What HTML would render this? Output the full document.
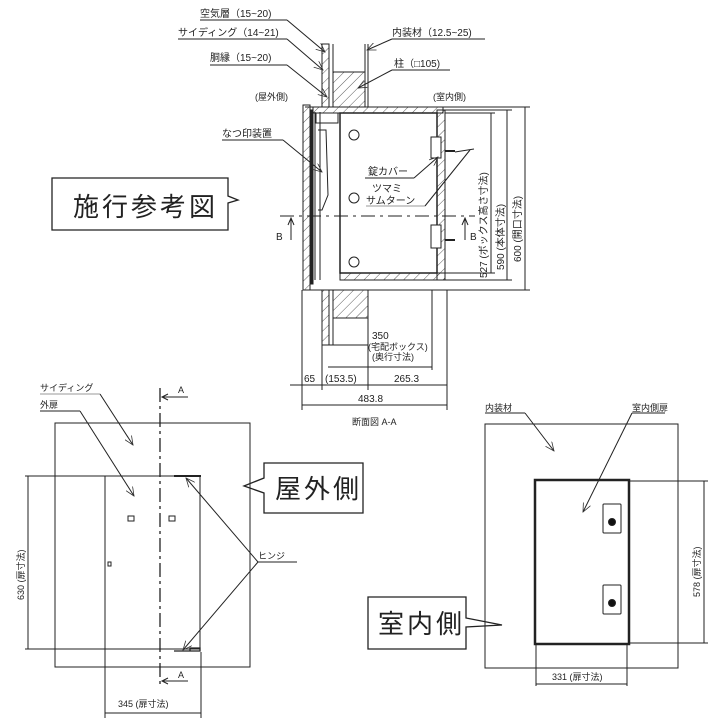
<!DOCTYPE html>
<html><head><meta charset="utf-8"><style>
html,body{margin:0;padding:0;background:#fff}
svg{display:block}
text{font-family:"Liberation Sans","Noto Sans CJK JP",sans-serif;fill:#222}
</style></head><body>
<svg width="720" height="720" viewBox="0 0 720 720" xmlns="http://www.w3.org/2000/svg">
<defs>
<pattern id="h" width="7" height="7" patternUnits="userSpaceOnUse" patternTransform="rotate(45)">
<line x1="0" y1="0" x2="0" y2="7" stroke="#333" stroke-width="0.8"/></pattern>
<marker id="ar" markerWidth="10" markerHeight="8" refX="9" refY="4" orient="auto" markerUnits="userSpaceOnUse"><path d="M0,0 L9,4 L0,8" fill="none" stroke="#333" stroke-width="0.8"/></marker>
</defs>
<g stroke="#222" fill="none" stroke-width="1">
<rect x="333" y="72" width="32" height="35" fill="url(#h)" stroke="none"/>
<rect x="322" y="44" width="7" height="63" fill="url(#h)"/>
<line x1="333" y1="44" x2="333" y2="107"/><line x1="365" y1="44" x2="365" y2="107"/><line x1="368" y1="44" x2="368" y2="107"/>
<line x1="333" y1="72" x2="365" y2="72"/>
<line x1="305" y1="107" x2="530" y2="107"/>
<rect x="313" y="107" width="130" height="6" fill="url(#h)"/>
<rect x="303" y="105" width="7" height="185" fill="url(#h)"/>
<rect x="310" y="110" width="3" height="174" fill="#222"/>
<line x1="315" y1="112" x2="315" y2="280"/><line x1="320" y1="112" x2="320" y2="280"/>
<rect x="316" y="113" width="22" height="10"/>
<path d="M318,130 L326,130 L328,195 L322,210 L318,210"/>
<rect x="340" y="113" width="97" height="160" stroke-width="1.5"/>
<rect x="437" y="110" width="8" height="170" fill="url(#h)"/>
<rect x="340" y="273" width="105" height="7" fill="url(#h)"/>
<circle cx="354" cy="135" r="5"/><circle cx="354" cy="198" r="5"/><circle cx="354" cy="262" r="5"/>
<rect x="431" y="137" width="10" height="21" fill="#fff"/><rect x="431" y="225" width="10" height="23" fill="#fff"/>
<line x1="445" y1="151" x2="455" y2="151" stroke-width="2"/><line x1="445" y1="240" x2="455" y2="240" stroke-width="2"/>
<line x1="305" y1="290" x2="530" y2="290"/>
<line x1="445" y1="113" x2="495" y2="113"/><line x1="445" y1="273" x2="495" y2="273"/>
<line x1="445" y1="110" x2="512" y2="110"/><line x1="445" y1="280" x2="512" y2="280"/>
<line x1="491" y1="113" x2="491" y2="273"/>
<line x1="507" y1="110" x2="507" y2="280"/>
<line x1="525" y1="107" x2="525" y2="290"/>
<line x1="280" y1="216" x2="475" y2="216" stroke-dasharray="14,5,3,5"/>
<path d="M291,240 V218 M288,225 L291,218 L294,225"/>
<path d="M465,240 V218 M462,225 L465,218 L468,225"/>
<rect x="333" y="290" width="35" height="28" fill="url(#h)"/>
<rect x="322" y="290" width="7" height="55" fill="url(#h)"/>
<line x1="333" y1="318" x2="333" y2="345"/><line x1="368" y1="290" x2="368" y2="345"/><line x1="322" y1="345" x2="368" y2="345"/>
<line x1="328" y1="367" x2="432" y2="367"/>
<line x1="432" y1="290" x2="432" y2="370"/>
<line x1="290" y1="385" x2="447" y2="385"/>
<line x1="302" y1="290" x2="302" y2="410"/><line x1="322" y1="345" x2="322" y2="390"/><line x1="368" y1="345" x2="368" y2="390"/><line x1="447" y1="290" x2="447" y2="410"/>
<line x1="302" y1="405" x2="447" y2="405"/>
<line x1="200" y1="20" x2="287" y2="20"/><line x1="287" y1="20" x2="325" y2="52" marker-end="url(#ar)"/>
<line x1="178" y1="39" x2="287" y2="39"/><line x1="287" y1="39" x2="323" y2="70" marker-end="url(#ar)"/>
<line x1="210" y1="65" x2="287" y2="65"/><line x1="287" y1="65" x2="327" y2="97" marker-end="url(#ar)"/>
<line x1="392" y1="39" x2="485" y2="39"/><line x1="392" y1="39" x2="367" y2="50" marker-end="url(#ar)"/>
<line x1="392" y1="70" x2="450" y2="70"/><line x1="392" y1="70" x2="358" y2="88" marker-end="url(#ar)"/>
<line x1="222" y1="140" x2="283" y2="140"/><line x1="283" y1="140" x2="322" y2="172" marker-end="url(#ar)"/>
<line x1="365" y1="178" x2="414" y2="178"/><line x1="414" y1="178" x2="438" y2="157" marker-end="url(#ar)"/>
<line x1="366" y1="206" x2="425" y2="206" stroke="#999"/><line x1="425" y1="206" x2="470" y2="150"/><line x1="455" y1="152" x2="474" y2="149"/>
<path d="M52,178 H228 V196 L238,200 L228,203 V230 H52 Z" stroke-width="1.3"/>
<rect x="55" y="423" width="195" height="244"/>
<rect x="105" y="476" width="95" height="173"/>
<line x1="174" y1="476" x2="201" y2="476" stroke-width="2"/>
<path d="M174,651 H192 M190,651 h10 v-3 h-10 z" stroke-width="1.3"/>
<line x1="160" y1="388" x2="160" y2="686" stroke-dasharray="14,4,3,4" stroke-width="1.3"/>
<line x1="162" y1="397" x2="188" y2="397"/>
<line x1="162" y1="681" x2="188" y2="681"/>
<path d="M168,394 L162,397 L168,400 M168,678 L162,681 L168,684"/>
<rect x="128" y="516" width="6" height="5"/><rect x="169" y="516" width="6" height="5"/><rect x="108" y="562" width="3" height="4"/>
<line x1="25" y1="476" x2="105" y2="476"/><line x1="25" y1="649" x2="105" y2="649"/><line x1="28" y1="476" x2="28" y2="649"/>
<line x1="105" y1="649" x2="105" y2="718"/><line x1="201" y1="652" x2="201" y2="718"/><line x1="105" y1="713" x2="201" y2="713"/>
<line x1="40" y1="394" x2="100" y2="394" stroke="#999"/><line x1="100" y1="394" x2="133" y2="445" marker-end="url(#ar)"/>
<line x1="40" y1="411" x2="80" y2="411"/><line x1="80" y1="411" x2="134" y2="496" marker-end="url(#ar)"/>
<line x1="258" y1="562" x2="297" y2="562"/><line x1="258" y1="562" x2="186" y2="478" marker-end="url(#ar)"/><line x1="258" y1="562" x2="183" y2="650" marker-end="url(#ar)"/>
<path d="M264,463 H363 V513 H264 V493 L244,486 L264,478 Z" stroke-width="1.3"/>
<rect x="485" y="424" width="193" height="244"/>
<rect x="535" y="480" width="94" height="164" stroke-width="2.5"/>
<rect x="603" y="504" width="18" height="29" rx="1"/><rect x="603" y="585" width="18" height="29" rx="1"/>
<circle cx="612" cy="522" r="3.5" fill="#111"/><circle cx="612" cy="603" r="3.5" fill="#111"/>
<line x1="629" y1="481" x2="708" y2="481"/><line x1="629" y1="643" x2="708" y2="643"/><line x1="704" y1="481" x2="704" y2="643"/>
<line x1="536" y1="644" x2="536" y2="686"/><line x1="627" y1="644" x2="627" y2="686"/><line x1="536" y1="684" x2="627" y2="684"/>
<line x1="485" y1="413" x2="525" y2="413"/><line x1="525" y1="413" x2="554" y2="451" marker-end="url(#ar)"/>
<line x1="632" y1="413" x2="665" y2="413"/><line x1="632" y1="413" x2="583" y2="512" marker-end="url(#ar)"/>
<path d="M368,597 H466 V618 L502,625 L466,627 V649 H368 Z" stroke-width="1.3"/>
</g>
<g font-size="10">
<text x="200" y="17">空気層（15~20)</text>
<text x="178" y="36">サイディング（14~21)</text>
<text x="210" y="61">胴縁（15~20)</text>
<text x="392" y="36">内装材（12.5~25)</text>
<text x="394" y="67">柱（□105)</text>
<text x="255" y="100" font-size="9">(屋外側)</text>
<text x="433" y="100" font-size="9">(室内側)</text>
<text x="222" y="137">なつ印装置</text>
<text x="368" y="175">錠カバー</text>
<text x="372" y="192">ツマミ</text>
<text x="366" y="204">サムターン</text>
<text x="276" y="240">B</text><text x="470" y="240">B</text>
<text x="372" y="339">350</text>
<text x="368" y="350" font-size="9">(宅配ボックス)</text>
<text x="372" y="360" font-size="9">(奥行寸法)</text>
<text x="304" y="382">65</text><text x="325" y="382">(153.5)</text><text x="394" y="382">265.3</text>
<text x="358" y="402">483.8</text>
<text x="352" y="425" font-size="9">断面図 A-A</text>
<text transform="translate(487,278) rotate(-90)">527 (ボックス高さ寸法)</text>
<text transform="translate(504,270) rotate(-90)">590 (本体寸法)</text>
<text transform="translate(521,262) rotate(-90)">600 (開口寸法)</text>
<text x="40" y="391" font-size="9">サイディング</text>
<text x="40" y="408" font-size="9">外扉</text>
<text x="178" y="393" font-size="9">A</text><text x="178" y="678" font-size="9">A</text>
<text x="258" y="559" font-size="9">ヒンジ</text>
<text transform="translate(24,600) rotate(-90)" font-size="9">630 (扉寸法)</text>
<text x="118" y="707" font-size="9">345 (扉寸法)</text>
<text x="485" y="411" font-size="9">内装材</text>
<text x="632" y="411" font-size="9">室内側扉</text>
<text transform="translate(700,597) rotate(-90)" font-size="9">578 (扉寸法)</text>
<text x="552" y="680" font-size="9">331 (扉寸法)</text>
</g>
<text x="73" y="216" font-size="26" letter-spacing="3">施行参考図</text>
<text x="275" y="498" font-size="26" letter-spacing="3">屋外側</text>
<text x="378" y="633" font-size="26" letter-spacing="3">室内側</text>
</svg>
</body></html>
